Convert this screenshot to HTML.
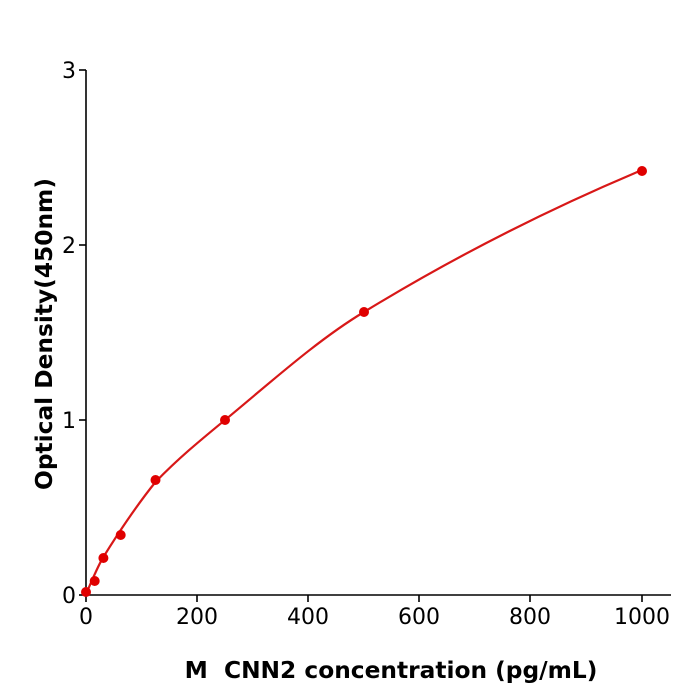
<!DOCTYPE html>
<html><head><meta charset="utf-8"><style>body{margin:0;background:#fff}svg{display:block}</style></head><body>
<svg width="700" height="700" xmlns="http://www.w3.org/2000/svg" font-family="DejaVu Sans, Liberation Sans, sans-serif">
<rect width="700" height="700" fill="#fff"/>
<g stroke="#000" stroke-width="1.6" fill="none">
<line x1="86" y1="70" x2="86" y2="596"/>
<line x1="85" y1="595" x2="671" y2="595"/>
<line x1="79" y1="70" x2="86" y2="70"/>
<line x1="79" y1="245" x2="86" y2="245"/>
<line x1="79" y1="420" x2="86" y2="420"/>
<line x1="79" y1="595" x2="86" y2="595"/>
<line x1="86" y1="595" x2="86" y2="602"/>
<line x1="197" y1="595" x2="197" y2="602"/>
<line x1="308" y1="595" x2="308" y2="602"/>
<line x1="419" y1="595" x2="419" y2="602"/>
<line x1="530" y1="595" x2="530" y2="602"/>
<line x1="642" y1="595" x2="642" y2="602"/>
</g>
<g font-size="22" text-anchor="end" fill="#000">
<text x="76" y="78">3</text><text x="76" y="253">2</text><text x="76" y="428">1</text><text x="76" y="603">0</text>
</g>
<g font-size="22" text-anchor="middle" fill="#000">
<text x="86" y="624">0</text><text x="197" y="624">200</text><text x="308" y="624">400</text><text x="419" y="624">600</text><text x="530" y="624">800</text><text x="642" y="624">1000</text>
</g>
<text x="391" y="678" font-size="23.3" font-weight="bold" text-anchor="middle" style="white-space:pre" xml:space="preserve">M  CNN2 concentration (pg/mL)</text>
<text transform="translate(52,334) rotate(-90)" font-size="23.3" font-weight="bold" text-anchor="middle">Optical Density(450nm)</text>
<path d="M86,594 C91.8,581.2 97.6,566.3 103.4,557 C120.8,529 138.1,503.6 155.5,482 C178.7,457.9 201.8,439.1 225,420 C271.3,381.8 317.7,339.8 364,312 C456.7,255.4 549.3,208.9 642,170" fill="none" stroke="#d81818" stroke-width="2.2"/>
<g fill="#e00000">
<circle cx="86" cy="592" r="5"/><circle cx="94.7" cy="581" r="5"/><circle cx="103.4" cy="558" r="5"/><circle cx="120.7" cy="535" r="5"/><circle cx="155.5" cy="480" r="5"/><circle cx="225" cy="420" r="5"/><circle cx="364" cy="312" r="5"/><circle cx="642" cy="171" r="5"/>
</g>
</svg>
</body></html>
